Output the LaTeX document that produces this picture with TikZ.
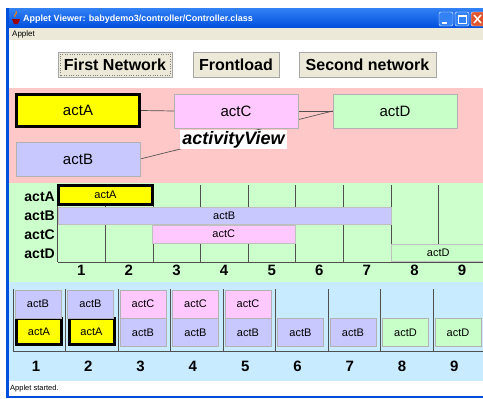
\documentclass[tikz,border=0pt]{standalone}
\usepackage{fontspec}
\setmainfont{Liberation Sans}
\definecolor{xpblue}{RGB}{0,78,220}
\definecolor{xplight}{RGB}{50,130,245}
\definecolor{closered}{RGB}{225,85,45}
\definecolor{menubg}{RGB}{236,233,216}
\definecolor{netbg}{RGB}{255,200,200}
\definecolor{tlbg}{RGB}{204,255,204}
\definecolor{stackbg}{RGB}{200,235,255}
\definecolor{colA}{RGB}{255,255,0}
\definecolor{colB}{RGB}{200,200,255}
\definecolor{colC}{RGB}{255,200,255}
\definecolor{colD}{RGB}{200,255,200}
\definecolor{gridgray}{RGB}{80,80,80}
\pgfdeclarelayer{areas}
\pgfdeclarelayer{wires}
\pgfsetlayers{areas,wires,main}

\begin{document}
\begin{tikzpicture}[x=1pt,y=-1pt,
  every node/.style={inner sep=0pt},
  pushbtn/.style={draw=gray!70,fill=menubg,minimum height=25pt,font=\fontsize{16}{16}\selectfont\bfseries},
  netbox/.style={draw=gray!60,minimum width=124pt,minimum height=34pt,font=\fontsize{15}{15}\selectfont},
  hotbox/.style={draw=black,line width=3pt},
  rowlbl/.style={anchor=east,font=\fontsize{14}{14}\selectfont\bfseries},
  bar/.style={draw=gray!50,font=\fontsize{11}{11}\selectfont},
  cell/.style={draw=gray!60,minimum width=46pt,minimum height=28pt,font=\fontsize{11}{11}\selectfont},
  num/.style={font=\fontsize{15}{15}\selectfont\bfseries},
  wire/.style={draw=gridgray,line width=0.7pt}]
\useasboundingbox (0,0) rectangle (483,399);
\begin{pgfonlayer}{areas}
\fill [white] (0,0) rectangle (483,399);
\fill [netbg] (9,88) rectangle (483,183);
\fill [tlbg] (9,183) rectangle (483,282);
\fill [stackbg] (9,282) rectangle (483,381);
\end{pgfonlayer}
\shade [top color=xplight,bottom color=xpblue] (6,8) rectangle (483,28);
\fill [xpblue] (6,8) rectangle (9,398);
\fill [xpblue] (6,396) rectangle (483,398);
\fill [red!60!black] (12,19) -- (20,19) -- (18,24) -- (14,24) -- cycle;
\draw [orange,line width=1pt] (15,17) .. controls (13,15) and (18,14) .. (16,11);
\draw (23,19) node [anchor=west,text=white,font=\fontsize{9}{9}\selectfont\bfseries] (wintitle) {Applet Viewer: babydemo3/controller/Controller.class};
\draw [white,fill=xplight,rounded corners=2pt] (439,12) rectangle (453,26);
\fill [white] (442,22) rectangle (447,24);
\draw [white,fill=xplight,rounded corners=2pt] (455,12) rectangle (469,26);
\draw [white,line width=1pt] (458,15) rectangle (466,23);
\draw [white,line width=2pt] (458,15.5) -- (466,15.5);
\draw [white,fill=closered,rounded corners=2pt] (471,12) rectangle (486,26);
\draw [white,line width=1.5pt] (474,15) -- (481,23) (481,15) -- (474,23);
\fill [menubg] (9,28) rectangle (483,40);
\draw (12,34) node [anchor=west,font=\fontsize{8}{8}\selectfont] (menuapplet) {Applet};
\draw (115,64.5) node [pushbtn,minimum width=114pt] (btnfirst) {First Network};
\draw [gray,dotted] ([shift={(2,-2)}]btnfirst.south west) rectangle ([shift={(-2,2)}]btnfirst.north east);
\draw (236,64.5) node [pushbtn,minimum width=86pt] (btnfront) {Frontload};
\draw (367.5,64.5) node [pushbtn,minimum width=137pt] (btnsecond) {Second network};
\draw (78,110.5) node [netbox,hotbox,fill=colA,minimum width=123pt,minimum height=32pt] (netA) {actA};
\draw (236,111) node [netbox,fill=colC] (netC) {actC};
\draw (395,111) node [netbox,fill=colD] (netD) {actD};
\draw (78,159) node [netbox,fill=colB] (netB) {actB};
\begin{pgfonlayer}{wires}
\draw [wire] (netA.east) -- (netC.west);
\draw [wire] (netC.east) -- (netD.west);
\draw [wire] (netB.east) -- (netD.west);
\end{pgfonlayer}
\draw (233.5,139.5) node [fill=white,inner xsep=2pt,inner ysep=1.5pt,font=\fontsize{18}{18}\selectfont\bfseries\itshape] (viewlbl) {activityView};
\foreach \k in {0,...,8}
  \draw [gridgray] ({57.5+47.6*\k},185) -- ({57.5+47.6*\k},262);
\draw [gridgray] (57.5,262) -- (483,262);
\draw (105.5,195) node [bar,hotbox,fill=colA,minimum width=94pt,minimum height=19pt] (barA) {actA};
\draw (224.2,215.3) node [bar,fill=colB,minimum width=333pt,minimum height=17pt] (barB) {actB};
\draw (223.7,234) node [bar,fill=colC,minimum width=143pt,minimum height=18pt] (barC) {actC};
\draw (438.3,253) node [bar,fill=colD,minimum width=95pt,minimum height=17pt] (barD) {actD};
\draw (55,196.5) node [rowlbl] (rowA) {actA};
\draw (55,215.5) node [rowlbl] (rowB) {actB};
\draw (55,234.5) node [rowlbl] (rowC) {actC};
\draw (55,253.5) node [rowlbl] (rowD) {actD};
\foreach \k in {1,...,9}
  \draw ({57.5+47.6*\k-23.8},270) node [num] (tnum\k) {\k};
\foreach \k in {0,...,8}
  \draw [gridgray] ({13+52.5*\k},289) -- ({13+52.5*\k},351);
\draw [gridgray] (13,351) -- (483,351);
\draw (39,331.5) node [cell,hotbox,fill=colA,minimum width=45pt,minimum height=26pt] (low1) {actA};
\draw (91.5,331.5) node [cell,hotbox,fill=colA,minimum width=45pt,minimum height=26pt] (low2) {actA};
\foreach \k/\c in {3/B,4/B,5/B,6/B,7/B,8/D,9/D}
  \draw ({38+52.5*(\k-1)},332.5) node [cell,fill=col\c] (low\k) {act\c};
\foreach \k/\c in {1/B,2/B,3/C,4/C,5/C}
  \draw ({38+52.5*(\k-1)},304) node [cell,fill=col\c] (up\k) {act\c};
\foreach \k in {1,...,9}
  \draw ({36+52.3*(\k-1)},366) node [num] (snum\k) {\k};
\draw (10,389) node [anchor=west,font=\fontsize{7.5}{7.5}\selectfont] (status) {Applet started.};
\end{tikzpicture}
\end{document}
